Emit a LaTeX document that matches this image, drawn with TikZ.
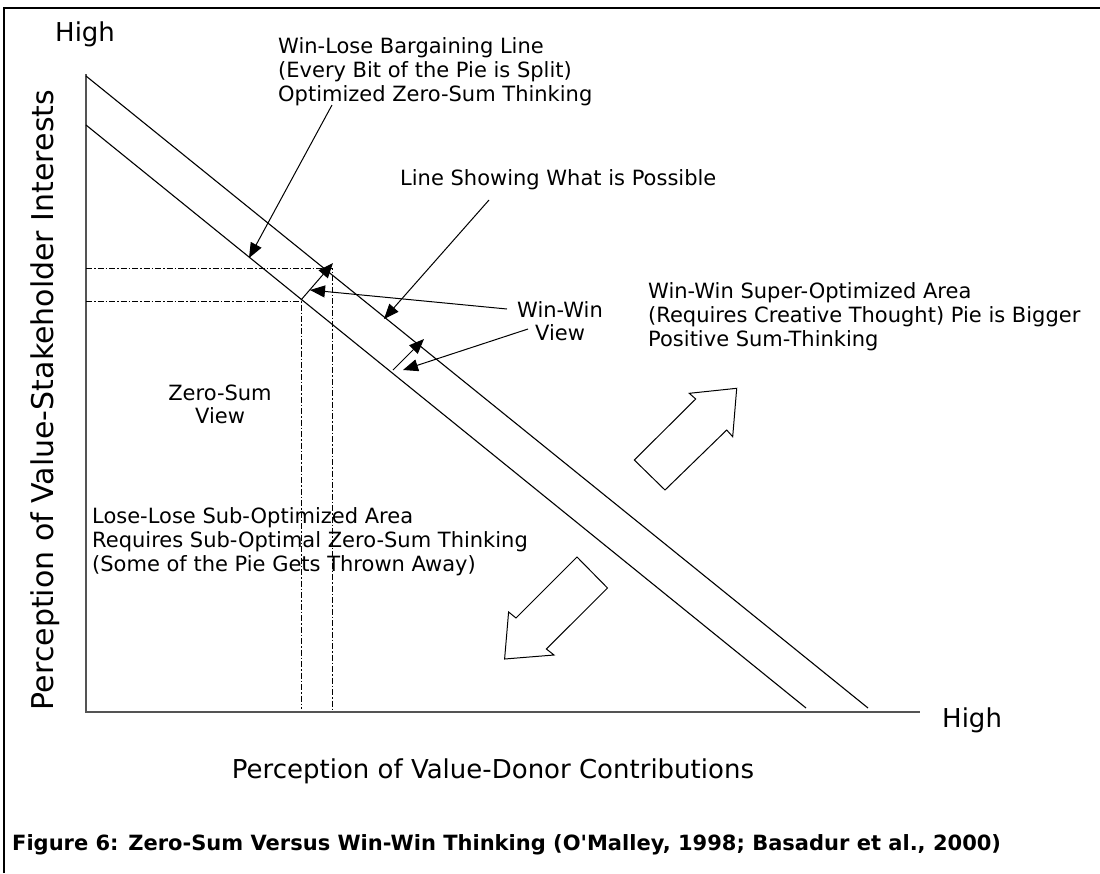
\documentclass[tikz,border=0pt]{standalone}
\usepackage{fontspec}
\setmainfont{DejaVu Sans}
\usetikzlibrary{arrows.meta}
\begin{document}
\begin{tikzpicture}[x=1pt,y=-1pt,
  lbl/.style={inner sep=0pt,anchor=base west,font=\fontsize{21}{24}\selectfont},
  lblc/.style={inner sep=0pt,anchor=base,font=\fontsize{21}{24}\selectfont},
  big/.style={inner sep=0pt,anchor=base west,font=\fontsize{26}{30}\selectfont},
  diag/.style={draw=black,line width=1.1pt},
  axis/.style={draw=black!67,line width=2pt},
  guide/.style={draw=black,line width=0.8pt,dash pattern=on 6pt off 2pt on 1.5pt off 2pt},
  ptr/.style={draw=black,line width=1pt,-{Triangle[length=15pt,width=12pt]}},
  block/.style={draw=black,line width=1pt,fill=white,line join=miter}]
\useasboundingbox (0,0) rectangle (1100,873);
% frame
\draw[line width=2.5pt] (4,873) -- (4,8) -- (1100,8);
% axes
\coordinate (ytop) at (86,74);
\coordinate (orig) at (86,712);
\coordinate (xend) at (920,712);
\draw[axis] (ytop) -- (orig) -- (xend);
% diagonals
\coordinate (u1) at (86,76);
\coordinate (u2) at (868,708);
\coordinate (l1) at (86,125);
\coordinate (l2) at (806,708);
\draw[diag] (u1) -- (u2);
\draw[diag] (l1) -- (l2);
% guide lines
\coordinate (ga) at (86,268);
\coordinate (gb) at (332,268);
\coordinate (gc) at (332,709);
\coordinate (gd) at (86,301);
\coordinate (ge) at (301,301);
\coordinate (gf) at (301,709);
\draw[guide] (ga) -- (gb) -- (gc);
\draw[guide] (gd) -- (ge) -- (gf);
% texts
\node[big] (hightop) at (55,41) {High};
\node[big] (highright) at (942,727) {High};
\node[lbl] (wl1) at (278,53) {Win-Lose Bargaining Line};
\node[lbl] (wl2) at (278,77) {(Every Bit of the Pie is Split)};
\node[lbl] (wl3) at (278,101) {Optimized Zero-Sum Thinking};
\node[lbl] (ls) at (400,185) {Line Showing What is Possible};
\node[lblc] (ww1) at (560,317) {Win-Win};
\node[lblc] (ww2) at (560,340) {View};
\node[lbl] (wa1) at (648,298) {Win-Win Super-Optimized Area};
\node[lbl] (wa2) at (648,322) {(Requires Creative Thought) Pie is Bigger};
\node[lbl] (wa3) at (648,346) {Positive Sum-Thinking};
\node[lblc] (zs1) at (220,400) {Zero-Sum};
\node[lblc] (zs2) at (220,423) {View};
\node[lbl] (ll1) at (92,523) {Lose-Lose Sub-Optimized Area};
\node[lbl] (ll2) at (92,547) {Requires Sub-Optimal Zero-Sum Thinking};
\node[lbl] (ll3) at (92,571) {(Some of the Pie Gets Thrown Away)};
\node[inner sep=0pt,anchor=base,rotate=90,font=\fontsize{30}{34}\selectfont] (ylab) at (53,400) {Perception of Value-Stakeholder Interests};
\node[inner sep=0pt,anchor=base,font=\fontsize{26}{30}\selectfont] (xlab) at (493,778) {Perception of Value-Donor Contributions};
\node[inner sep=0pt,anchor=base west,font=\fontsize{21}{24}\selectfont\bfseries] (cap) at (12,850) {Figure 6: Zero-Sum Versus Win-Win Thinking (O\textquotesingle Malley, 1998; Basadur et al., 2000)};
% pointer arrows
\coordinate (a1s) at (332,105); \coordinate (a1e) at (249,258);
\coordinate (a2s) at (489,200); \coordinate (a2e) at (384,319);
\coordinate (a3s) at (301,300); \coordinate (a3e) at (333,263);
\coordinate (a4s) at (393,370); \coordinate (a4e) at (424,339);
\coordinate (a5s) at (507,309); \coordinate (a5e) at (310,290);
\coordinate (a6s) at (528,329); \coordinate (a6e) at (403,370);
\draw[ptr] (a1s) -- (a1e);
\draw[ptr] (a2s) -- (a2e);
\draw[ptr] (a3s) -- (a3e);
\draw[ptr] (a4s) -- (a4e);
\draw[ptr] (a5s) -- (a5e);
\draw[ptr] (a6s) -- (a6e);
% block arrows
\draw[block] (736.7,388.3) -- (689.3,393.3) -- (695.7,399) -- (634.3,460) -- (665,490) -- (726.7,430) -- (732.7,436.7) -- cycle;
\draw[block] (577,557) -- (607.5,588) -- (546.4,649) -- (554,655) -- (504.6,659) -- (508.6,612) -- (516,618) -- cycle;
\end{tikzpicture}
\end{document}
